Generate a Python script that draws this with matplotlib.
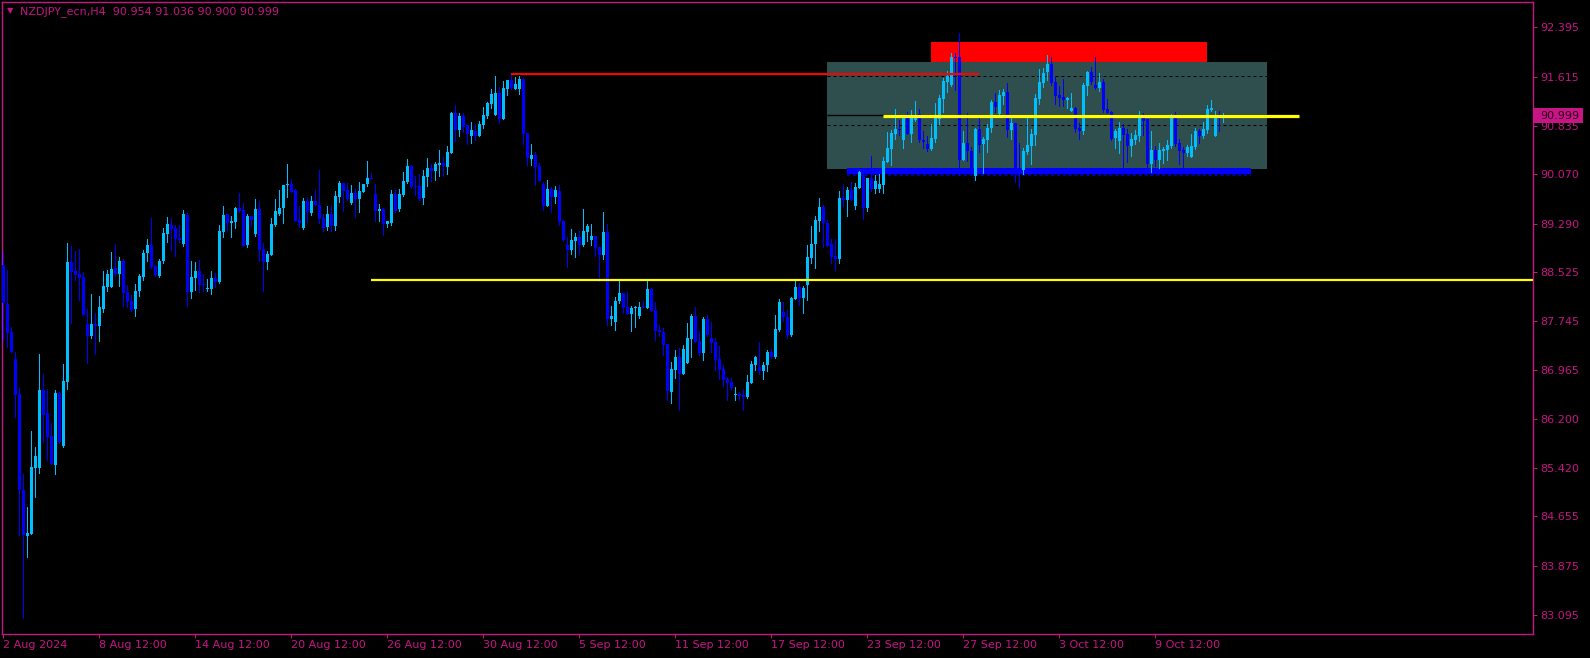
import numpy as np
import matplotlib
matplotlib.use("Agg")
import matplotlib.pyplot as plt
from matplotlib.patches import Rectangle

symbol = "NZDJPY_ecn,H4"
last_ohlc = ["90.954", "91.036", "90.900", "90.999"]

# H4 bars, 2 Aug 2024 12:00 onwards
opens = [
    88.64, 88.02, 87.57, 87.15, 86.59, 85.07, 84.35, 84.37, 85.42, 85.42,
    86.66, 86.29, 85.93, 85.47, 86.61, 85.77, 86.78, 88.68, 88.54, 88.50,
    88.45, 87.70, 87.51, 87.70, 87.67, 87.94, 88.29, 88.29, 88.59, 88.49,
    88.70, 88.21, 88.06, 87.94, 88.22, 88.45, 88.82, 88.95, 88.62, 88.46,
    88.70, 89.13, 89.27, 89.22, 89.06, 88.97, 89.43, 88.21, 88.43, 88.54,
    88.34, 88.26, 88.26, 88.43, 88.37, 89.16, 89.44, 89.30, 89.32, 89.54,
    89.51, 88.95, 89.41, 89.13, 89.52, 88.89, 88.68, 88.79, 89.27, 89.44,
    89.54, 89.90, 89.92, 89.82, 89.35, 89.22, 89.65, 89.46, 89.65, 89.59,
    89.38, 89.24, 89.44, 89.25, 89.71, 89.93, 89.82, 89.62, 89.78, 89.68,
    89.79, 89.92, 90.01, 89.76, 89.49, 89.52, 89.28, 89.30, 89.76, 89.52,
    89.74, 89.95, 90.20, 89.89, 89.89, 89.70, 90.03, 90.17, 90.12, 90.22,
    90.25, 90.19, 90.41, 91.04, 90.77, 90.99, 90.85, 90.68, 90.76, 90.68,
    90.85, 91.00, 91.18, 91.01, 91.36, 90.95, 91.42, 91.56, 91.42, 91.42,
    91.58, 90.72, 90.31, 90.38, 90.20, 89.92, 89.57, 89.84, 89.71, 89.81,
    89.33, 88.95, 88.87, 89.01, 89.08, 88.95, 89.16, 89.03, 89.09, 88.92,
    88.79, 89.16, 87.78, 87.73, 88.06, 88.19, 87.97, 87.86, 87.95, 87.83,
    87.99, 87.95, 88.25, 87.92, 87.61, 87.58, 87.38, 86.62, 86.97, 87.18,
    86.91, 87.08, 87.46, 87.83, 87.43, 87.24, 87.78, 87.48, 87.42, 87.15,
    86.99, 86.83, 86.78, 86.58, 86.59, 86.58, 86.55, 86.77, 87.05, 87.02,
    86.96, 87.05, 87.26, 87.18, 87.61, 87.89, 87.81, 87.53, 88.10, 88.29,
    88.11, 88.32, 88.75, 88.97, 89.33, 89.55, 89.30, 88.97, 88.78, 88.73,
    89.69, 89.66, 89.82, 89.57, 89.85, 90.06, 89.54, 90.01, 89.84, 89.84,
    89.90, 90.27, 90.47, 90.71, 90.79, 90.61, 90.96, 90.71, 90.93, 91.03,
    90.61, 90.55, 90.47, 90.63, 90.95, 91.26, 91.53, 91.48, 91.93, 91.93,
    90.30, 90.57, 90.44, 90.04, 90.79, 90.55, 90.61, 90.80, 91.22, 91.02,
    91.31, 91.37, 90.77, 90.88, 90.17, 90.14, 90.42, 90.52, 90.69, 91.26,
    91.52, 91.69, 91.82, 91.53, 91.33, 91.29, 91.25, 91.07, 91.12, 90.80,
    90.76, 91.47, 91.69, 91.48, 91.44, 91.53, 91.10, 91.06, 90.65, 90.60,
    90.80, 90.71, 90.52, 90.61, 90.68, 90.99, 90.95, 90.23, 90.45, 90.30,
    90.44, 90.46, 90.52, 91.01, 90.57, 90.46, 90.41, 90.34, 90.50, 90.76,
    90.68, 90.77, 91.09, 90.68, 90.98, 90.954,
]
highs = [
    88.82, 88.56, 87.65, 87.25, 86.69, 85.33, 84.81, 86.01, 85.75, 87.23,
    86.91, 86.67, 86.13, 86.66, 86.63, 87.07, 88.98, 88.94, 88.86, 88.89,
    88.52, 87.94, 88.18, 87.87, 88.14, 88.54, 88.56, 88.84, 88.97, 88.76,
    88.73, 88.32, 88.16, 88.33, 88.49, 88.87, 89.05, 89.38, 88.64, 88.73,
    89.22, 89.40, 89.38, 89.27, 89.27, 89.51, 89.46, 88.70, 88.68, 88.71,
    88.49, 88.41, 88.54, 88.51, 89.27, 89.57, 89.44, 89.41, 89.55, 89.78,
    89.62, 89.44, 89.41, 89.68, 89.65, 88.98, 88.86, 89.38, 89.68, 89.82,
    89.90, 90.23, 90.00, 89.84, 89.57, 89.70, 89.71, 89.73, 89.82, 90.14,
    89.44, 89.57, 89.57, 89.81, 89.97, 89.93, 89.93, 89.90, 89.84, 89.95,
    89.92, 90.28, 90.09, 89.92, 89.60, 89.54, 89.33, 89.82, 89.82, 89.84,
    90.11, 90.31, 90.22, 90.04, 90.08, 90.14, 90.33, 90.23, 90.27, 90.45,
    90.34, 90.52, 91.06, 91.17, 91.04, 91.04, 90.85, 90.90, 90.87, 90.91,
    91.14, 91.22, 91.42, 91.63, 91.45, 91.55, 91.56, 91.64, 91.61, 91.63,
    91.60, 90.72, 90.55, 90.42, 90.25, 89.95, 89.98, 89.87, 89.89, 89.90,
    89.35, 89.08, 89.20, 89.14, 89.17, 89.52, 89.28, 89.28, 89.09, 88.92,
    89.47, 89.28, 87.99, 88.13, 88.38, 88.19, 88.21, 87.99, 87.99, 88.05,
    88.06, 88.38, 88.27, 88.05, 87.69, 87.64, 87.38, 87.10, 87.29, 87.32,
    87.37, 87.72, 87.86, 87.97, 87.59, 87.81, 87.84, 87.73, 87.48, 87.35,
    87.05, 86.86, 86.85, 86.70, 86.62, 86.66, 86.89, 87.12, 87.20, 87.42,
    87.10, 87.29, 87.30, 87.84, 88.10, 88.05, 87.92, 88.13, 88.38, 88.35,
    88.30, 88.95, 89.25, 89.41, 89.70, 89.59, 89.35, 89.05, 89.05, 89.81,
    89.92, 89.87, 89.95, 89.93, 90.12, 90.14, 90.01, 90.36, 90.06, 90.08,
    90.34, 90.74, 90.77, 91.10, 90.93, 90.98, 91.06, 91.09, 91.23, 91.10,
    90.76, 90.68, 90.87, 91.20, 91.33, 91.60, 91.71, 91.99, 91.99, 92.31,
    90.76, 91.04, 90.50, 90.80, 90.96, 90.66, 90.87, 91.25, 91.36, 91.40,
    91.42, 91.52, 90.96, 90.88, 90.57, 90.49, 90.98, 90.79, 91.34, 91.74,
    91.75, 91.96, 91.93, 91.61, 91.47, 91.58, 91.29, 91.36, 91.14, 90.88,
    91.52, 91.71, 91.77, 91.93, 91.67, 91.58, 91.26, 91.07, 90.79, 90.90,
    90.87, 90.79, 90.72, 90.77, 91.07, 91.04, 90.95, 90.76, 90.52, 90.57,
    90.50, 90.61, 91.03, 91.06, 90.63, 90.50, 90.53, 90.71, 90.80, 90.79,
    90.90, 91.17, 91.25, 91.07, 91.07, 91.036,
]
lows = [
    87.45, 87.33, 87.25, 86.23, 84.36, 83.04, 84.02, 84.37, 84.97, 85.35,
    85.84, 85.55, 85.49, 85.33, 85.81, 85.75, 86.67, 87.72, 88.40, 88.08,
    87.84, 87.08, 87.48, 87.23, 87.43, 87.89, 88.22, 88.29, 88.46, 88.30,
    87.99, 87.97, 87.91, 87.83, 88.14, 88.40, 88.70, 88.59, 88.46, 88.45,
    88.67, 89.00, 88.87, 88.78, 89.00, 88.94, 87.99, 88.11, 88.24, 88.21,
    88.22, 88.22, 88.18, 88.29, 88.35, 89.08, 89.19, 89.08, 89.22, 89.47,
    88.94, 88.92, 89.27, 89.10, 88.70, 88.22, 88.57, 88.79, 89.25, 89.43,
    89.30, 89.71, 89.79, 89.33, 89.24, 89.21, 89.32, 89.43, 89.59, 89.30,
    89.17, 89.19, 89.17, 89.19, 89.63, 89.49, 89.66, 89.60, 89.40, 89.47,
    89.79, 89.89, 89.99, 89.33, 89.33, 89.11, 89.24, 89.27, 89.47, 89.49,
    89.73, 89.93, 89.85, 89.74, 89.66, 89.60, 89.89, 89.96, 89.98, 90.04,
    90.04, 90.08, 90.41, 90.60, 90.68, 90.74, 90.55, 90.57, 90.61, 90.68,
    90.80, 90.96, 91.12, 91.01, 90.88, 90.95, 91.33, 91.42, 91.42, 91.34,
    90.55, 90.22, 90.22, 89.90, 89.96, 89.51, 89.57, 89.47, 89.62, 89.27,
    89.01, 88.60, 88.81, 88.76, 88.81, 88.94, 89.01, 88.95, 88.78, 88.38,
    88.73, 87.68, 87.68, 87.61, 88.03, 87.88, 87.86, 87.59, 87.65, 87.80,
    87.97, 87.95, 87.91, 87.45, 87.51, 87.21, 86.50, 86.45, 86.85, 86.34,
    86.91, 87.08, 87.18, 87.42, 87.21, 87.13, 87.51, 87.26, 86.97, 86.83,
    86.72, 86.50, 86.66, 86.50, 86.50, 86.34, 86.53, 86.77, 86.97, 86.91,
    86.83, 86.96, 87.16, 87.16, 87.59, 87.75, 87.48, 87.51, 88.10, 88.00,
    87.88, 88.08, 88.67, 88.59, 89.17, 88.92, 88.94, 88.67, 88.56, 88.67,
    89.57, 89.41, 89.66, 89.52, 89.85, 89.36, 89.49, 89.81, 89.77, 89.79,
    89.77, 90.27, 90.22, 90.63, 90.69, 90.49, 90.71, 90.58, 90.91, 90.58,
    90.49, 90.44, 90.46, 90.58, 90.87, 91.06, 91.37, 91.47, 91.40, 90.06,
    90.30, 90.28, 90.08, 89.98, 90.42, 90.09, 90.42, 90.74, 91.06, 90.99,
    91.18, 90.66, 90.63, 89.95, 89.85, 90.08, 90.39, 90.23, 90.53, 91.18,
    91.45, 91.56, 91.48, 91.18, 91.15, 91.15, 91.12, 91.07, 90.74, 90.63,
    90.71, 91.33, 91.50, 91.42, 91.39, 91.06, 91.04, 90.61, 90.49, 90.41,
    90.15, 90.27, 90.36, 90.55, 90.60, 90.69, 90.15, 90.11, 90.20, 90.17,
    90.25, 90.30, 90.49, 90.52, 90.23, 90.19, 90.36, 90.34, 90.47, 90.57,
    90.65, 90.72, 91.07, 90.68, 90.76, 90.900,
]
closes = [
    88.03, 87.56, 87.26, 86.58, 85.08, 84.36, 84.39, 85.43, 85.61, 86.66,
    86.26, 85.92, 85.49, 86.61, 85.83, 86.80, 88.68, 88.53, 88.48, 88.43,
    87.84, 87.51, 87.70, 87.67, 87.97, 88.30, 88.49, 88.57, 88.49, 88.70,
    88.19, 88.05, 87.92, 88.22, 88.46, 88.82, 88.95, 88.60, 88.48, 88.70,
    89.14, 89.28, 89.21, 89.05, 89.03, 89.44, 88.21, 88.45, 88.54, 88.32,
    88.32, 88.27, 88.43, 88.37, 89.17, 89.43, 89.30, 89.33, 89.54, 89.49,
    88.94, 89.41, 89.35, 89.52, 88.87, 88.68, 88.81, 89.28, 89.49, 89.54,
    89.90, 89.91, 89.79, 89.33, 89.30, 89.65, 89.47, 89.65, 89.59, 89.36,
    89.22, 89.44, 89.25, 89.73, 89.93, 89.81, 89.68, 89.78, 89.68, 89.81,
    89.92, 90.01, 89.99, 89.49, 89.52, 89.28, 89.33, 89.76, 89.49, 89.76,
    89.96, 90.20, 89.87, 89.87, 89.68, 90.04, 90.17, 90.12, 90.23, 90.25,
    90.20, 90.42, 91.04, 90.77, 90.99, 90.82, 90.71, 90.77, 90.68, 90.87,
    91.01, 91.20, 91.34, 91.36, 90.95, 91.44, 91.56, 91.44, 91.50, 91.58,
    90.71, 90.33, 90.38, 90.19, 89.96, 89.57, 89.84, 89.71, 89.82, 89.32,
    89.03, 88.87, 89.03, 89.08, 88.95, 89.17, 89.25, 89.09, 88.90, 88.79,
    89.16, 87.78, 87.83, 88.07, 88.19, 87.95, 87.86, 87.95, 87.97, 87.97,
    87.97, 88.25, 87.91, 87.59, 87.58, 87.37, 86.64, 86.99, 87.18, 86.91,
    87.30, 87.48, 87.83, 87.42, 87.24, 87.78, 87.53, 87.40, 87.13, 86.97,
    86.81, 86.77, 86.69, 86.59, 86.56, 86.55, 86.78, 87.07, 87.18, 86.96,
    87.05, 87.26, 87.18, 87.62, 88.05, 87.81, 87.53, 88.11, 88.29, 88.11,
    88.27, 88.76, 88.97, 89.35, 89.55, 89.30, 88.94, 88.76, 88.73, 89.70,
    89.66, 89.82, 89.66, 89.87, 90.11, 89.54, 90.01, 89.84, 89.96, 89.92,
    90.28, 90.49, 90.72, 90.79, 90.77, 90.96, 90.71, 90.96, 91.01, 90.61,
    90.58, 90.47, 90.65, 90.96, 91.28, 91.55, 91.63, 91.93, 91.91, 90.30,
    90.57, 90.44, 90.15, 90.79, 90.53, 90.63, 90.80, 91.22, 91.14, 91.33,
    91.37, 90.77, 90.88, 90.15, 90.15, 90.44, 90.53, 90.71, 91.28, 91.53,
    91.67, 91.82, 91.52, 91.31, 91.28, 91.25, 91.28, 91.12, 90.79, 90.76,
    91.48, 91.69, 91.53, 91.44, 91.53, 91.09, 91.04, 90.63, 90.76, 90.80,
    90.69, 90.52, 90.63, 90.69, 90.99, 90.91, 90.23, 90.45, 90.30, 90.45,
    90.47, 90.53, 91.01, 90.55, 90.44, 90.41, 90.50, 90.52, 90.76, 90.68,
    90.79, 91.10, 91.12, 90.98, 90.96, 90.999,
]

price_ticks = [92.395, 91.615, 90.835, 90.070, 89.290, 88.525, 87.745,
               86.965, 86.200, 85.420, 84.655, 83.875, 83.095]
price_labels = ["92.395", "91.615", "90.835", "90.070", "89.290", "88.525", "87.745",
                "86.965", "86.200", "85.420", "84.655", "83.875", "83.095"]
date_bars = [0, 24, 48, 72, 96, 120, 144, 168, 192, 216, 240, 264, 288]
date_labels = ["2 Aug 2024", "8 Aug 12:00", "14 Aug 12:00", "20 Aug 12:00",
               "26 Aug 12:00", "30 Aug 12:00", "5 Sep 12:00", "11 Sep 12:00",
               "17 Sep 12:00", "23 Sep 12:00", "27 Sep 12:00", "3 Oct 12:00",
               "9 Oct 12:00"]

# indicator levels: (price, first bar, last bar)
red_level = (91.663, 127, 244)
yellow_upper = (90.986, 220, 324)
yellow_lower = (88.40, 92, 383)
box_bars, box_prices = (206, 316), (90.155, 91.849)
box_dashes = [91.622, 90.846]
box_mid = 91.005
top_zone_bars, top_zone_prices = (232, 301), (91.844, 92.165)
low_zone_bars, low_zone_prices = (211, 312), (90.068, 90.171)

MAG = "#C71585"
BULL = "#00BFFF"
BEAR = "#0000FF"
PX = 0.72  # one pixel in points at 100 dpi

opens = np.array(opens)
highs = np.array(highs)
lows = np.array(lows)
closes = np.array(closes)

fig = plt.figure(figsize=(15.9, 6.58), dpi=100, facecolor="black")
ax = fig.add_axes([2 / 1590, 24 / 658, 1531 / 1590, 632 / 658])
ax.set_facecolor("black")

# range box and zones
ax.add_patch(Rectangle((box_bars[0], box_prices[0]), box_bars[1] - box_bars[0],
                       box_prices[1] - box_prices[0], color="#2F4F4F", lw=0, zorder=1))
ax.add_patch(Rectangle((top_zone_bars[0], top_zone_prices[0]), top_zone_bars[1] - top_zone_bars[0],
                       top_zone_prices[1] - top_zone_prices[0], color="#FF0000", lw=0, zorder=1.5))
ax.add_patch(Rectangle((low_zone_bars[0], low_zone_prices[0]), low_zone_bars[1] - low_zone_bars[0],
                       low_zone_prices[1] - low_zone_prices[0], color="#0000FF", lw=0, zorder=1.5))
ax.hlines(low_zone_prices[0] - 0.01, low_zone_bars[0], low_zone_bars[1], colors="#0000C0",
          linestyles=(0, (2, 1.5)), lw=1.2, zorder=1.5)
ax.hlines(box_dashes, box_bars[0], box_bars[1], colors="black", linestyles=(0, (3, 3)),
          lw=PX, zorder=2)
ax.hlines(box_mid, box_bars[0], box_bars[1], colors="black", lw=PX * 1.4, zorder=2)

# candles
x = np.arange(len(closes))
cols = np.where(closes >= opens, BULL, BEAR)
ax.vlines(x, lows, highs, colors=cols, lw=PX, zorder=3, antialiased=False)
body_lo = np.minimum(opens, closes)
body_h = np.maximum(np.abs(closes - opens), 0.017)
ax.bar(x, body_h, bottom=body_lo, width=0.7, color=cols, lw=0, zorder=3,
       antialiased=False)

# level lines
ax.hlines(red_level[0], red_level[1], red_level[2], colors="#FF0000", lw=1.5, zorder=4)
ax.hlines(yellow_upper[0], yellow_upper[1], yellow_upper[2], colors="#FFFF00", lw=2.3, zorder=4)
ax.hlines(yellow_lower[0], yellow_lower[1], yellow_lower[2], colors="#FFFF00", lw=1.6, zorder=4)

ax.set_xlim(-0.325, 382.425)
ax.set_ylim(82.794, 92.798)

for s in ax.spines.values():
    s.set_color(MAG)
    s.set_linewidth(1.0)

ax.yaxis.tick_right()
ax.set_yticks(price_ticks)
ax.set_yticklabels(price_labels)
ax.tick_params(axis="y", colors=MAG, length=3, width=PX, pad=2.5, labelsize=8)
ax.set_xticks(date_bars)
ax.set_xticklabels(date_labels)
ax.tick_params(axis="x", colors=MAG, length=3, width=PX, pad=1.5, labelsize=8)
for lbl in ax.get_xticklabels():
    lbl.set_horizontalalignment("left")

# current price tag
tr = ax.get_yaxis_transform()
last = closes[-1]
ax.add_patch(Rectangle((1.0007, last - 0.12), 0.032, 0.24, transform=tr, color=MAG,
                       lw=0, clip_on=False, zorder=5))
ax.text(1.0045, last, last_ohlc[3], transform=tr, color="#2a0018", fontsize=8,
        va="center", ha="left", zorder=6, clip_on=False)

fig.text(7 / 1590, 1 - 11 / 658, "\u25bc", color=MAG, fontsize=6, va="center")
fig.text(20 / 1590, 1 - 12 / 658, symbol + "  " + " ".join(last_ohlc), color=MAG,
         fontsize=8, va="center")

fig.savefig("out.png", dpi=100, facecolor="black")
